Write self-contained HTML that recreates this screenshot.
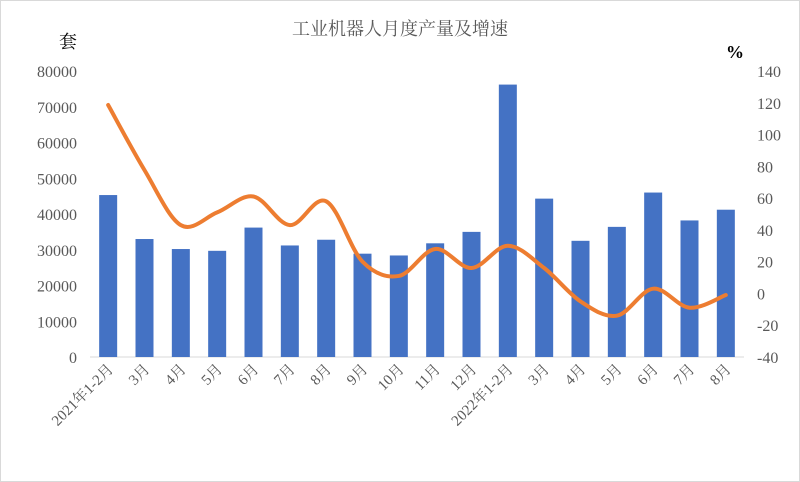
<!DOCTYPE html>
<html><head><meta charset="utf-8"><style>
html,body{margin:0;padding:0;background:#fff}
svg{display:block}
text{font-family:"Liberation Serif","Noto Serif CJK SC",serif;}
</style></head><body>
<svg id="chart" width="800" height="482" viewBox="0 0 800 482" xmlns="http://www.w3.org/2000/svg">
<rect x="0.5" y="0.5" width="799" height="481" fill="#fff" stroke="#d9d9d9"/>
<text x="400" y="35" text-anchor="middle" font-size="18" fill="#595959">工业机器人月度产量及增速</text>
<text x="68" y="48" text-anchor="middle" font-size="18" fill="#000">套</text>
<text x="735" y="58" text-anchor="middle" font-size="18" fill="#000" font-weight="bold" font-family="Liberation Sans">%</text>
<g id="axes"></g><g id="bars"></g><g id="line"></g><g id="labels"></g>
</svg>
<script>
const categories=["2021年1-2月","3月","4月","5月","6月","7月","8月","9月","10月","11月","12月","2022年1-2月","3月","4月","5月","6月","7月","8月"];
const production=[45300,33000,30200,29700,36200,31200,32800,28900,28400,31800,35000,76200,44300,32500,36400,46000,38200,41200];
const growth=[118.6,77.6,43,51,61,43,58,20,11,28,16,30,16,-5,-14,3,-9,-1];
const leftTicks=[0,10000,20000,30000,40000,50000,60000,70000,80000];
const rightTicks=[-40,-20,0,20,40,60,80,100,120,140];
const NS="http://www.w3.org/2000/svg";
const L=90,R=744,T=71,B=357;
const step=(R-L)/categories.length;
const xc=i=>L+step*(i+0.5);
const yl=v=>B-(v/80000)*(B-T);
const yr=v=>B-((v+40)/180)*(B-T);
function mk(tag,parent,attrs){const e=document.createElementNS(NS,tag);for(const k in attrs)e.setAttribute(k,attrs[k]);document.getElementById(parent).appendChild(e);return e;}
let e=mk('line','axes',{x1:L,x2:R,y1:B,y2:B,stroke:'#d9d9d9'});


leftTicks.forEach(v=>{const t=mk('text','axes',{x:77,y:yl(v)+6,'text-anchor':'end','font-size':'16',fill:'#595959'});t.textContent=v;

});
rightTicks.forEach(v=>{const t=mk('text','axes',{x:757,y:yr(v)+6,'text-anchor':'start','font-size':'16',fill:'#595959'});t.textContent=v;

});
production.forEach((v,i)=>{const b=mk('rect','bars',{x:xc(i)-9,y:yl(v),width:18,height:B-yl(v),fill:'#4472c4'});

});
// smooth line via Catmull-Rom
const pts=growth.map((v,i)=>[xc(i),yr(v)]);
let d='M'+pts[0][0]+','+pts[0][1];
for(let i=0;i<pts.length-1;i++){const p0=pts[Math.max(i-1,0)],p1=pts[i],p2=pts[i+1],p3=pts[Math.min(i+2,pts.length-1)];
const c1=[p1[0]+(p2[0]-p0[0])/6,p1[1]+(p2[1]-p0[1])/6],c2=[p2[0]-(p3[0]-p1[0])/6,p2[1]-(p3[1]-p1[1])/6];
d+=' C'+c1+' '+c2+' '+p2;}
const ln=mk('path','line',{d:d,fill:'none',stroke:'#ed7d31','stroke-width':'4','stroke-linecap':'round'});


categories.forEach((c,i)=>{const x=xc(i)+6,y=370;const t=mk('text','labels',{x:x,y:y,'text-anchor':'end','font-size':'15',fill:'#595959',transform:'rotate(-45 '+x+' '+y+')'});t.textContent=c;

});
</script>
</body></html>
